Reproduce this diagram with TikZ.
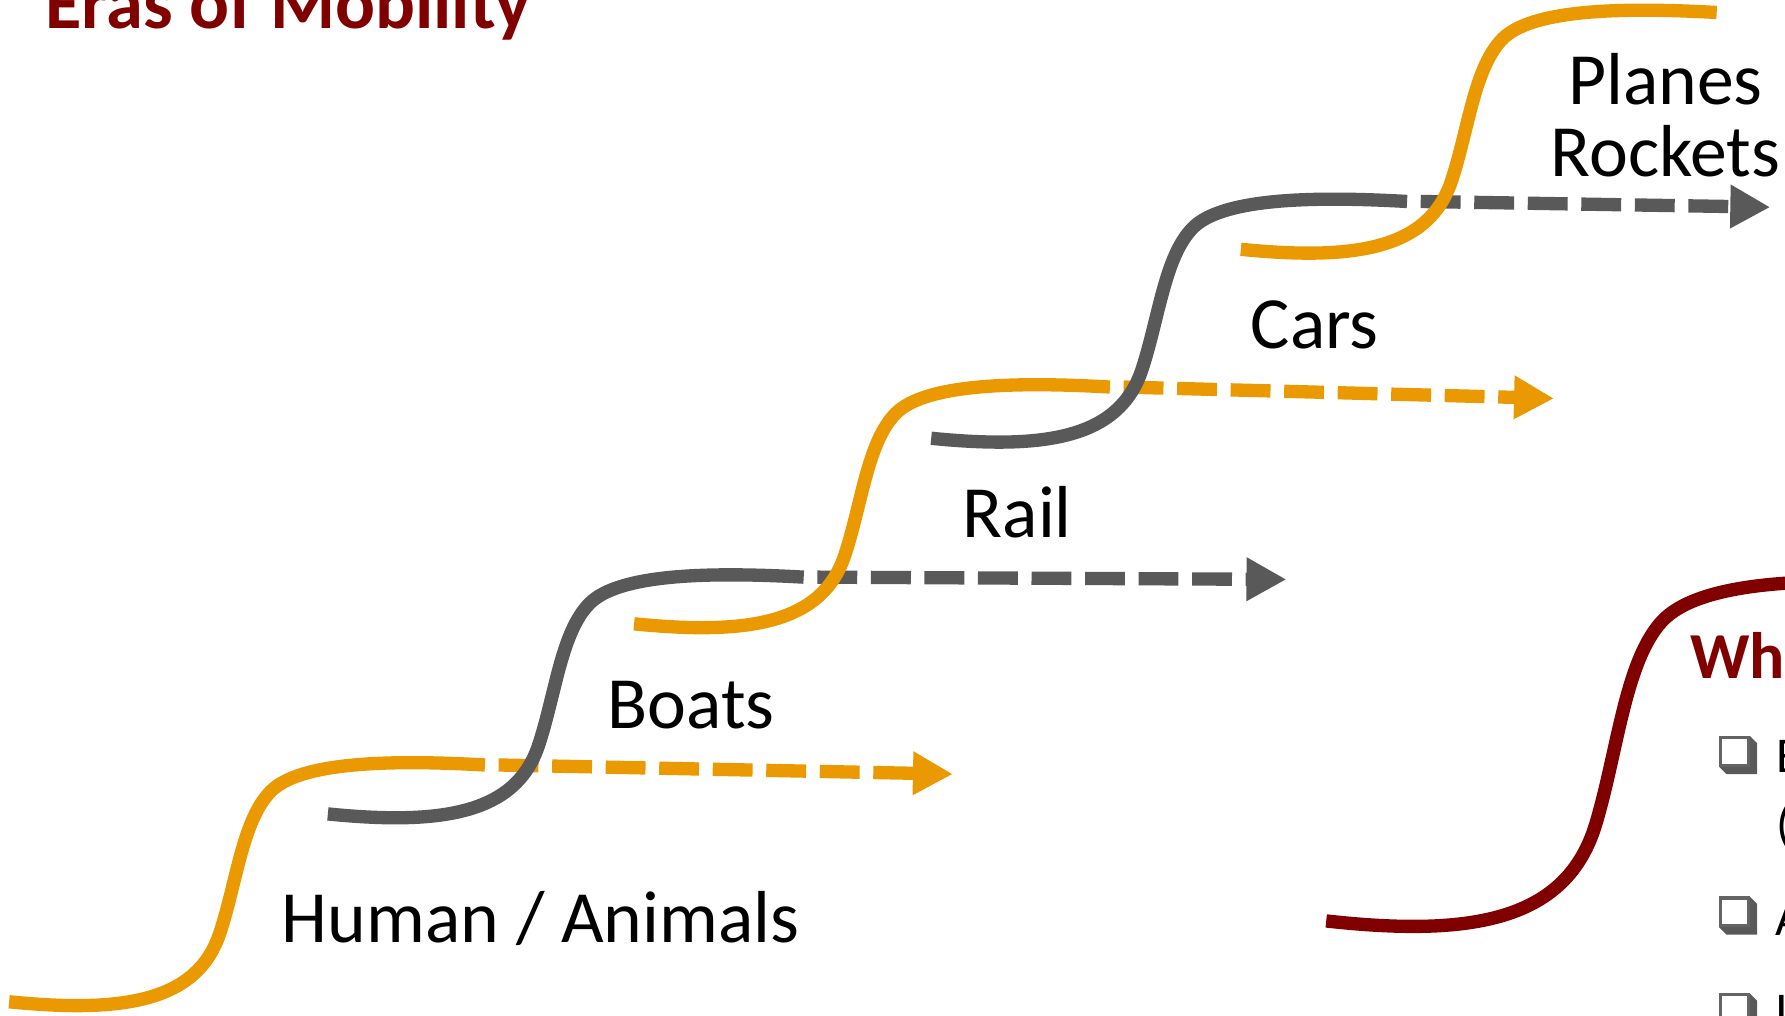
\documentclass[tikz,border=0pt]{standalone}
\usepackage{fontspec}
\setmainfont{Carlito}
\usepackage{tikz}
\usetikzlibrary{arrows.meta}

\definecolor{eraorange}{RGB}{234,153,0}
\definecolor{eragray}{RGB}{89,89,89}
\definecolor{erared}{RGB}{128,0,0}
\definecolor{boxedge}{RGB}{100,100,100}

\tikzset{
    eraline/.style={line width=0.117cm},
    dashline/.style={line width=0.117cm, dash pattern=on 0.35cm off 0.12cm, -{Triangle[length=0.35cm, width=0.36cm]}},
    eralabel/.style={anchor=base west, inner sep=0pt, font=\fontsize{18.4}{17}\selectfont},
    listtext/.style={anchor=base west, inner sep=0pt, font=\fontsize{12.5}{15}\selectfont},
    erastep/.pic={
        \draw (0,0) .. controls (100,10) and (165,0) .. (185,-60)
            .. controls (200,-105) and (205,-160) .. (230,-185)
            .. controls (255,-210) and (330,-213) .. (418,-208) coordinate (-top);
    },
    tickbox/.pic={
        \fill[eragray] (27,0) -- (33.5,6.5) -- (33.5,33.5) -- (6.5,33.5) -- (0,27) -- cycle;
        \filldraw[fill=white, draw=boxedge, line width=0.027cm] (1.35,1.35) rectangle (25.65,25.65);
    },
}

\begin{document}
\begin{tikzpicture}[x=0.01cm, y=-0.01cm]
    \useasboundingbox (0,0) rectangle (1568,892);

    \node[anchor=base west, inner sep=0pt, text=erared, font=\fontsize{18.6}{20}\selectfont\bfseries] (title) at (39,25) {Eras of Mobility};

    \coordinate (humantip) at (837,680);
    \coordinate (boatstip) at (1130,509);
    \coordinate (railtip) at (1365,350);
    \coordinate (carstip) at (1555,182);

    \pic[eraorange, eraline] (human) at (8,880) {erastep};
    \draw[dashline, eraorange] ([xshift=0.12cm]human-top) -- (humantip);
    \pic[eragray, eraline] (boats) at (288,715) {erastep};
    \draw[dashline, eragray] ([xshift=0.12cm]boats-top) -- (boatstip);
    \pic[eraorange, eraline] (rail) at (557,548) {erastep};
    \draw[dashline, eraorange] ([xshift=0.12cm]rail-top) -- (railtip);
    \pic[eragray, eraline] (cars) at (818,385) {erastep};
    \draw[dashline, eragray] ([xshift=0.12cm]cars-top) -- (carstip);
    \pic[eraorange, eraline] (planes) at (1090,219) {erastep};
    \pic[erared, eraline, xscale=1.28, yscale=1.42] (next) at (1165,809) {erastep};

    \node[eralabel] (humanlabel) at (247,828) {Human / Animals};
    \node[eralabel] (boatslabel) at (533,640) {Boats};
    \node[eralabel] (raillabel) at (845,472) {Rail};
    \node[eralabel] (carslabel) at (1098,306) {Cars};
    \node[anchor=base, inner sep=0pt, font=\fontsize{18.4}{17}\selectfont] (planeslabel) at (1463,92) {Planes};
    \node[anchor=base, inner sep=0pt, font=\fontsize{18.4}{17}\selectfont] (rocketslabel) at (1463,155) {Rockets};

    \node[anchor=base west, inner sep=0pt, text=erared, font=\fontsize{16.4}{18}\selectfont\bfseries] (whathead) at (1484,596) {What};
    \pic (boxa) at (1510,646.5) {tickbox};
    \pic (boxb) at (1510,787.5) {tickbox};
    \pic (boxc) at (1510,872.5) {tickbox};
    \node[listtext] (itema) at (1560,679) {E};
    \node[listtext] (itemaa) at (1560,739) {(};
    \node[listtext] (itemb) at (1559,821.5) {A};
    \node[listtext] (itemc) at (1559,903) {I};
\end{tikzpicture}
\end{document}
